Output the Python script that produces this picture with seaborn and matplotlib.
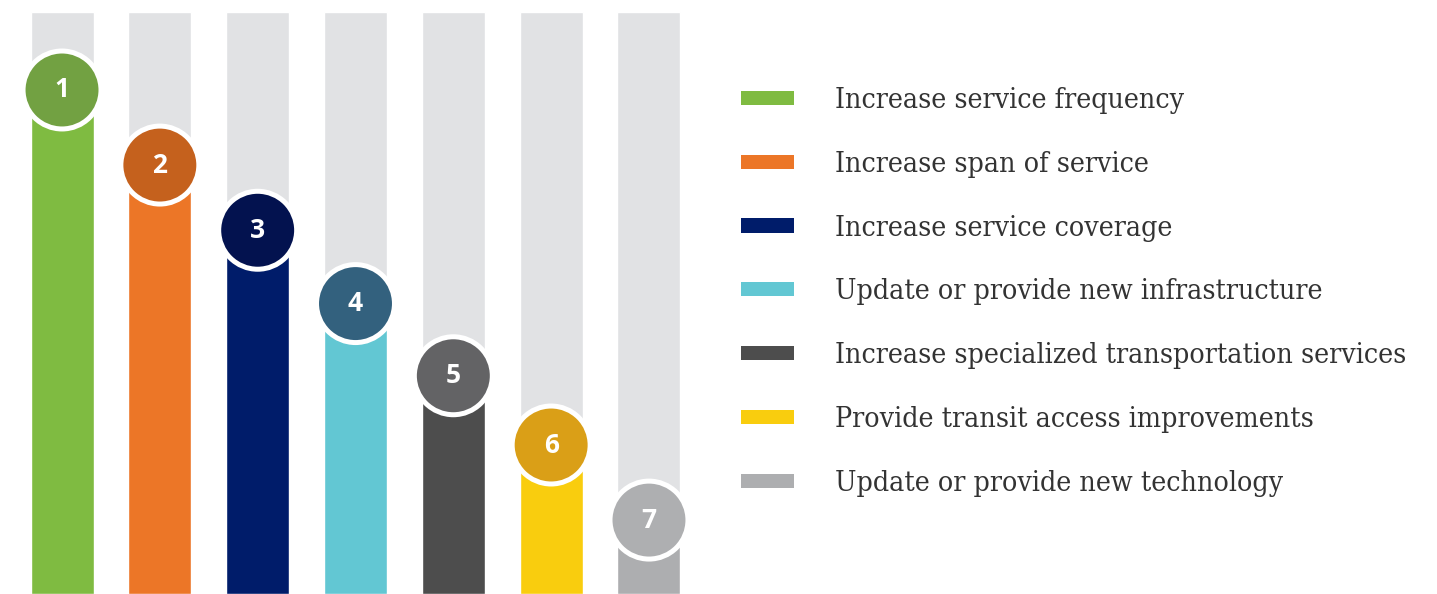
import matplotlib
matplotlib.use("Agg")
import matplotlib.pyplot as plt
from matplotlib.patches import Patch
import seaborn as sns
import pandas as pd

categories = [
    "Increase service frequency",
    "Increase span of service",
    "Increase service coverage",
    "Update or provide new infrastructure",
    "Increase specialized transportation services",
    "Provide transit access improvements",
    "Update or provide new technology",
]
ranks = ["1", "2", "3", "4", "5", "6", "7"]
values = [86.6, 73.7, 62.5, 49.9, 37.5, 25.6, 12.7]
full_scale = [100] * 7
bar_colors = ["#7FBB41", "#EC7627", "#001C6A", "#62C7D3", "#4D4D4D", "#F9CD0E", "#ADAEB0"]
circle_colors = ["#72A142", "#C5611D", "#03124F", "#33617E", "#636365", "#DA9F17", "#AEAFB1"]

df = pd.DataFrame({"category": categories, "rank": ranks, "value": values, "full": full_scale})

sns.set_theme(style="white")
fig = plt.figure(figsize=(14.37, 5.94), dpi=100)
ax = fig.add_axes([0, 0, 720 / 1437, 1])

sns.barplot(data=df, x="rank", y="full", color="#E1E2E4", width=0.644,
            saturation=1, ax=ax)
sns.barplot(data=df, x="rank", y="value", hue="rank", palette=bar_colors,
            width=0.644, saturation=1, legend=False, ax=ax)
sns.scatterplot(data=df, x="rank", y="value", hue="rank", palette=circle_colors,
                s=3150, edgecolor="white", linewidth=3.6, legend=False, ax=ax,
                zorder=5)
for i, row in df.iterrows():
    ax.text(i, row["value"], row["rank"], color="white", fontsize=19,
            fontweight="bold", family="Open Sans", ha="center", va="center",
            zorder=6)

ax.set_xlim(-0.634, 6.726)
ax.set_ylim(0, 100 * 594 / 582)
ax.axis("off")

handles = [Patch(facecolor=c, edgecolor="none") for c in bar_colors]
fig.legend(handles, categories, loc="upper left",
           bbox_to_anchor=(741 / 1437, 1 - 87 / 594), frameon=False,
           prop={"family": "DejaVu Serif", "size": 20.4, "stretch": "condensed"},
           handlelength=1.87, handleheight=0.39, handletextpad=1.45,
           labelspacing=1.30, labelcolor="#333333", borderaxespad=0, borderpad=0)

fig.savefig("out.png", dpi=100)
